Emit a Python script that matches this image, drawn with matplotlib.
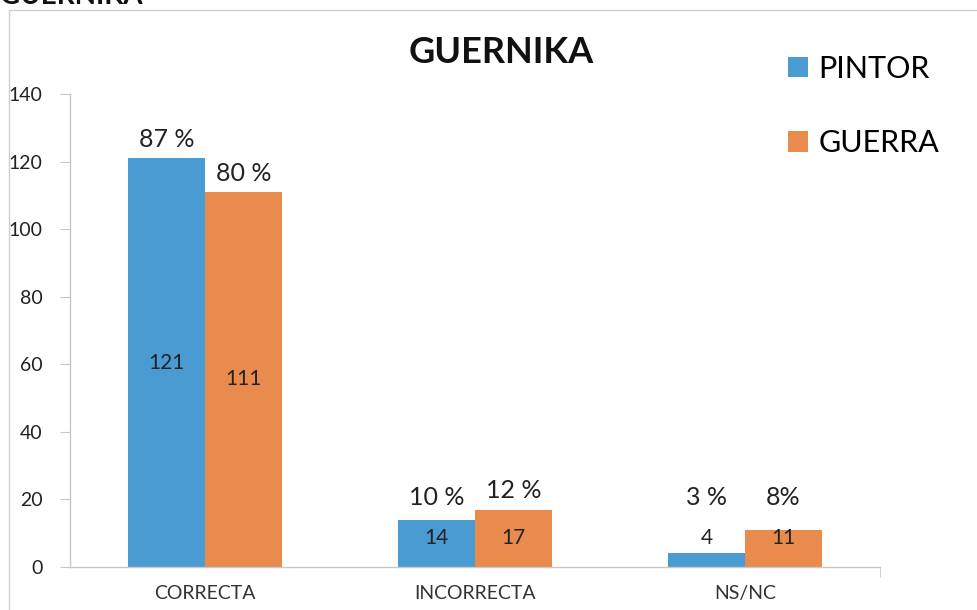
import numpy as np
import matplotlib
matplotlib.use('Agg')
import matplotlib.pyplot as plt
from matplotlib.patches import Rectangle

plt.rcParams['font.family'] = ['Lato', 'DejaVu Sans']

categorias = ['CORRECTA', 'INCORRECTA', 'NS/NC']
pintor = [121, 14, 4]
guerra = [111, 17, 11]
pct_pintor = ['87 %', '10 %', '3 %']
pct_guerra = ['80 %', '12 %', '8%']

azul = '#4a9bd2'
naranja = '#e98b4c'
gris = '#c8c8c8'

fig = plt.figure(figsize=(9.77, 6.1), dpi=100)
ax = fig.add_axes([0.0717, 0.0705, 0.829, 0.7755])

x = np.arange(len(categorias))
w = 0.285
b1 = ax.bar(x - w / 2, pintor, w, color=azul, label='PINTOR')
b2 = ax.bar(x + w / 2, guerra, w, color=naranja, label='GUERRA')

# etiquetas: cantidad dentro de la barra, porcentaje encima
for barras, vals, pcts in [(b1, pintor, pct_pintor), (b2, guerra, pct_guerra)]:
    for r, v, p in zip(barras, vals, pcts):
        cx = r.get_x() + r.get_width() / 2
        ax.text(cx, max(v / 2, 8.5), str(v), ha='center', va='center', fontsize=15, color='#222222')
        ax.text(cx, max(v, 15) + 5.5, p, ha='center', va='center', fontsize=18, color='#222222')

ax.set_xlim(-0.5, 2.5)
ax.set_ylim(0, 140)
ax.set_yticks(np.arange(0, 141, 20))
ax.set_xticks(x)
ax.set_xticklabels(categorias, fontsize=14, color='#333333')
ax.tick_params(axis='x', length=0, pad=13)
ax.tick_params(axis='y', direction='out', length=7, color=gris, labelsize=14, pad=13, labelcolor='#222222')
ax.set_xticks([2.5], minor=True)
ax.tick_params(axis='x', which='minor', direction='out', length=7, color=gris)

for s in ['top', 'right']:
    ax.spines[s].set_visible(False)
for s in ['left', 'bottom']:
    ax.spines[s].set_color(gris)
    ax.spines[s].set_linewidth(1)

ax.set_title('GUERNIKA', fontsize=26, fontweight='bold', color='#111111', pad=22, x=0.532)

fig.legend(handles=[b1, b2], labels=['PINTOR', 'GUERRA'], loc='upper left',
           bbox_to_anchor=(788 / 977, 1 - 55 / 610), bbox_transform=fig.transFigure,
           frameon=False, fontsize=22, borderpad=0, borderaxespad=0,
           handlelength=0.65, handleheight=0.65, handletextpad=0.35, labelspacing=1.51)

fig.patches.append(Rectangle((9 / 977, -0.05), 1.0, 1 - 10 / 610 + 0.05, transform=fig.transFigure,
                             fill=False, edgecolor='#cfcfcf', linewidth=1))
fig.text(0.0, 1 - 4 / 610, 'GUERNIKA', fontsize=20, fontweight='bold', color='#111111',
         ha='left', va='baseline')

fig.savefig('out.png', dpi=100)
